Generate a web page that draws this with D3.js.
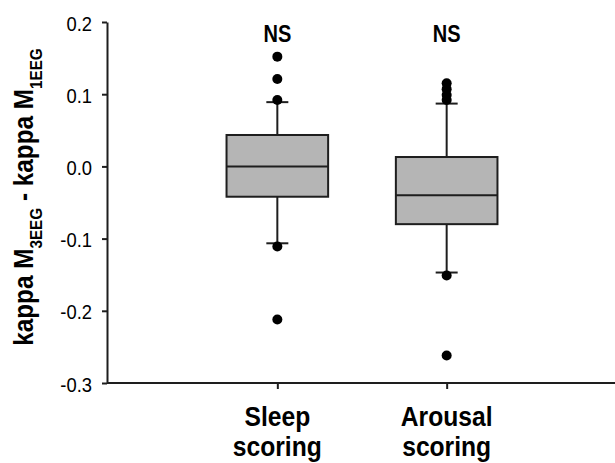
<!DOCTYPE html>
<html>
<head>
<meta charset="utf-8">
<script src="https://cdn.jsdelivr.net/npm/d3@7"></script>
<style>
  body { margin: 0; background: #fff; }
  text { font-family: "Liberation Sans", Arial, sans-serif; fill: #000; }
</style>
</head>
<body>
<div id="chart"></div>
<script>
// values
let categories = ["Sleep scoring", "Arousal scoring"];
let q1 = [-0.042, -0.080];
let medians = [0.0, -0.040];
let q3 = [0.0435, 0.013];
let whiskerLow = [-0.1065, -0.147];
let whiskerHigh = [0.089, 0.087];
let outliers = [
    [0.152, 0.121, 0.092, -0.111, -0.212],
    [0.115, 0.107, 0.099, 0.092, -0.151, -0.262]
];
let sigLabels = ["NS", "NS"];
let yTicks = [-0.3, -0.2, -0.1, 0.0, 0.1, 0.2];

let svgWidth = 615, svgHeight = 463;
let margin = {top: 22, right: 0, bottom: 80, left: 107};

let svg = d3.select("#chart").append("svg")
    .attr("width", svgWidth)
    .attr("height", svgHeight);

let x = d3.scalePoint().domain(categories).range([margin.left + 1, svgWidth + 1]).padding(1);
let y = d3.scaleLinear().domain([-0.3, 0.2]).range([svgHeight - margin.bottom, margin.top]);
let boxW = x.step() * 0.6;
let capW = 22;
let ink = "#1e1e1e";

// y axis
let yAxis = svg.append("g")
    .attr("transform", "translate(" + margin.left + ",0)")
    .call(d3.axisLeft(y).tickValues(yTicks).tickSize(5).tickPadding(10)
        .tickFormat(d3.format(".1f")).tickSizeOuter(0));
yAxis.select(".domain").attr("stroke", ink).attr("stroke-width", 2);
yAxis.selectAll(".tick line").attr("stroke", ink).attr("stroke-width", 2);
yAxis.selectAll(".tick text")
    .attr("font-size", "20px")
    .attr("font-family", "'Liberation Sans', Arial, sans-serif")
    .attr("fill", "#000")
    .attr("dy", "0.4em")
    .attr("x", -15 / 0.92)
    .attr("transform", "scale(0.92,1)")
    .text(function(d) { return d3.format(".1f")(d).replace("−", "-"); });

// x axis
let xAxis = svg.append("g")
    .attr("transform", "translate(0," + y(-0.3) + ")")
    .call(d3.axisBottom(x).tickSize(6).tickSizeOuter(0).tickFormat(""));
xAxis.select(".domain").attr("d", "M" + margin.left + ",0H" + svgWidth)
    .attr("stroke", ink).attr("stroke-width", 2);
xAxis.selectAll(".tick line").attr("stroke", ink).attr("stroke-width", 2);

// x labels (two lines), condensed like the original
let xLab = svg.selectAll(".xlab")
    .data(categories)
    .enter()
    .append("text")
    .attr("class", "xlab")
    .attr("transform", function(d) { return "translate(" + x(d) + ",0) scale(0.88,1)"; })
    .attr("text-anchor", "middle")
    .attr("font-size", "28px")
    .attr("font-weight", "bold");
xLab.append("tspan")
    .attr("x", 0)
    .attr("y", 426)
    .text(function(d) { return d.split(" ")[0]; });
xLab.append("tspan")
    .attr("x", 0)
    .attr("y", 456)
    .text(function(d) { return d.split(" ")[1]; });

// boxes
let boxes = svg.selectAll(".box")
    .data(categories)
    .enter()
    .append("g")
    .attr("class", "box");

// whiskers
boxes.append("line")
    .attr("x1", function(d) { return x(d); })
    .attr("x2", function(d) { return x(d); })
    .attr("y1", function(d, i) { return y(whiskerHigh[i]); })
    .attr("y2", function(d, i) { return y(q3[i]); })
    .attr("stroke", ink).attr("stroke-width", 2);
boxes.append("line")
    .attr("x1", function(d) { return x(d); })
    .attr("x2", function(d) { return x(d); })
    .attr("y1", function(d, i) { return y(q1[i]); })
    .attr("y2", function(d, i) { return y(whiskerLow[i]); })
    .attr("stroke", ink).attr("stroke-width", 2);
// caps
boxes.append("line")
    .attr("x1", function(d) { return x(d) - capW / 2; })
    .attr("x2", function(d) { return x(d) + capW / 2; })
    .attr("y1", function(d, i) { return y(whiskerHigh[i]); })
    .attr("y2", function(d, i) { return y(whiskerHigh[i]); })
    .attr("stroke", ink).attr("stroke-width", 2);
boxes.append("line")
    .attr("x1", function(d) { return x(d) - capW / 2; })
    .attr("x2", function(d) { return x(d) + capW / 2; })
    .attr("y1", function(d, i) { return y(whiskerLow[i]); })
    .attr("y2", function(d, i) { return y(whiskerLow[i]); })
    .attr("stroke", ink).attr("stroke-width", 2);

boxes.append("rect")
    .attr("x", function(d) { return x(d) - boxW / 2; })
    .attr("y", function(d, i) { return y(q3[i]); })
    .attr("width", boxW)
    .attr("height", function(d, i) { return y(q1[i]) - y(q3[i]); })
    .attr("fill", "#b5b5b5")
    .attr("stroke", ink)
    .attr("stroke-width", 2);

boxes.append("line")
    .attr("x1", function(d) { return x(d) - boxW / 2; })
    .attr("x2", function(d) { return x(d) + boxW / 2; })
    .attr("y1", function(d, i) { return y(medians[i]); })
    .attr("y2", function(d, i) { return y(medians[i]); })
    .attr("stroke", ink).attr("stroke-width", 2);

// outliers
boxes.each(function(d, i) {
    d3.select(this).selectAll("circle")
        .data(outliers[i])
        .enter()
        .append("circle")
        .attr("cx", x(d))
        .attr("cy", function(v) { return y(v); })
        .attr("r", 5)
        .attr("fill", "#000");
});

// NS labels
svg.selectAll(".sig")
    .data(categories)
    .enter()
    .append("text")
    .attr("class", "sig")
    .attr("transform", function(d) { return "translate(" + x(d) + ",42) scale(0.87,1)"; })
    .attr("text-anchor", "middle")
    .attr("font-size", "23px")
    .attr("font-weight", "bold")
    .text(function(d, i) { return sigLabels[i]; });

// y axis title
let yTitle = svg.append("text")
    .attr("transform", "translate(33,197) rotate(-90) scale(0.9,1)")
    .attr("text-anchor", "middle")
    .attr("font-size", "27px")
    .attr("font-weight", "bold");
yTitle.append("tspan").text("kappa M");
yTitle.append("tspan").attr("font-size", "17px").attr("dy", 9).text("3EEG");
yTitle.append("tspan").attr("dy", -9).text(" - kappa M");
yTitle.append("tspan").attr("font-size", "17px").attr("dy", 9).text("1EEG");
</script>
</body>
</html>
